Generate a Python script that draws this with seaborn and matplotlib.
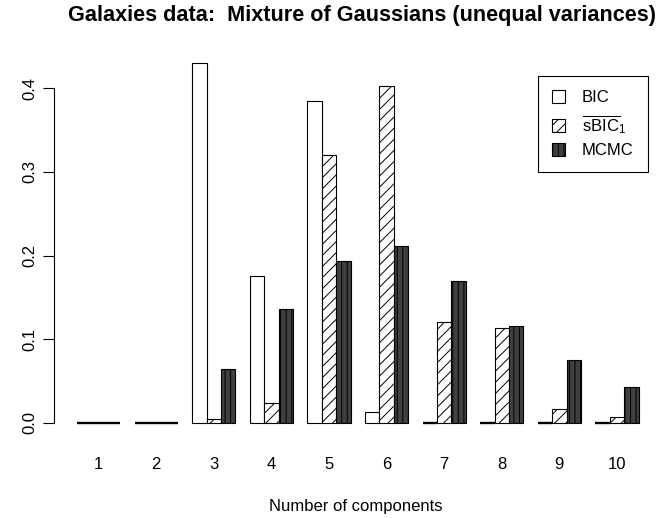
import numpy as np
import matplotlib
matplotlib.use('Agg')
import matplotlib.pyplot as plt
from matplotlib.patches import Patch
import pandas as pd
import seaborn as sns

# posterior probabilities of the number of components
components = ['1', '2', '3', '4', '5', '6', '7', '8', '9', '10']
methods = ['BIC', 'sBIC', 'MCMC']
bic = [0, 0, 0.430, 0.176, 0.385, 0.0135, 0, 0, 0, 0]
sbic = [0, 0, 0.0044, 0.024, 0.320, 0.402, 0.121, 0.113, 0.0164, 0.0068]
mcmc = [0, 0, 0.065, 0.136, 0.193, 0.211, 0.169, 0.116, 0.0755, 0.0425]
legend_labels = ['BIC', r'$\overline{\mathrm{sBIC}}_{1}$', 'MCMC']
yticks = [0.0, 0.1, 0.2, 0.3, 0.4]

df = pd.DataFrame({
    'k': components * 3,
    'method': [m for m in methods for _ in components],
    'prob': bic + sbic + mcmc,
})

plt.rcParams['font.family'] = ['Liberation Sans', 'DejaVu Sans']
plt.rcParams['mathtext.fontset'] = 'custom'
plt.rcParams['mathtext.rm'] = 'Liberation Sans'
plt.rcParams['mathtext.it'] = 'Liberation Sans:italic'
plt.rcParams['hatch.linewidth'] = 0.7

fig = plt.figure(figsize=(6.6, 5.18), dpi=100)
ax = fig.add_axes([54 / 660, 1 - 436.4 / 518, 622 / 660, 361.8 / 518])

sns.barplot(data=df, x='k', y='prob', hue='method', order=components,
            hue_order=methods, width=0.75, errorbar=None, legend=False, ax=ax)

styles = [dict(facecolor='white', hatch=None),
          dict(facecolor='white', hatch='///'),
          dict(facecolor='#404040', hatch='|||')]
for cont, st in zip(ax.containers, styles):
    for bar in cont:
        bar.set_facecolor(st['facecolor'])
        bar.set_edgecolor('black')
        # empty bars show up as a heavy baseline in the original
        bar.set_linewidth(1.7 if bar.get_height() == 0 else 0.8)
        bar.set_hatch(st['hatch'])
        bar.set_clip_on(False)

ax.set_xlim(-0.776, 10.025)
ax.set_ylim(-0.016, 0.416)
for s in ['top', 'right', 'bottom']:
    ax.spines[s].set_visible(False)
ax.spines['left'].set_bounds(0, 0.4)
ax.spines['left'].set_linewidth(0.8)
ax.set_yticks(yticks)
ax.set_yticklabels(['0.0', '0.1', '0.2', '0.3', '0.4'])
ax.tick_params(axis='y', length=8, width=0.8, pad=4, labelsize=12, labelrotation=90)
ax.tick_params(axis='x', length=0, pad=15, labelsize=12)
for lab in ax.get_yticklabels():
    lab.set_va('center')

ax.set_ylabel('')
ax.set_xlabel('Number of components', fontsize=12)
ax.xaxis.set_label_coords((356 - 54) / 622, (436.4 - 499) / 361.8)

fig.text(362 / 660, 1 - 15 / 518,
         'Galaxies data:  Mixture of Gaussians (unequal variances)',
         ha='center', va='center', fontsize=15.6, fontweight='bold')

handles = [Patch(facecolor=st['facecolor'], edgecolor='black', hatch=st['hatch'], linewidth=0.8)
           for st in styles]
leg = fig.legend(handles, legend_labels, loc='upper right',
                 bbox_to_anchor=(648 / 660, 1 - 76 / 518), bbox_transform=fig.transFigure,
                 fontsize=12, frameon=True, fancybox=False, framealpha=1,
                 edgecolor='black', handlelength=0.8, handleheight=0.8,
                 labelspacing=0.45, borderpad=0.85, handletextpad=1.0, borderaxespad=0)
leg.get_frame().set_linewidth(0.8)

fig.savefig('out.png', dpi=100)
